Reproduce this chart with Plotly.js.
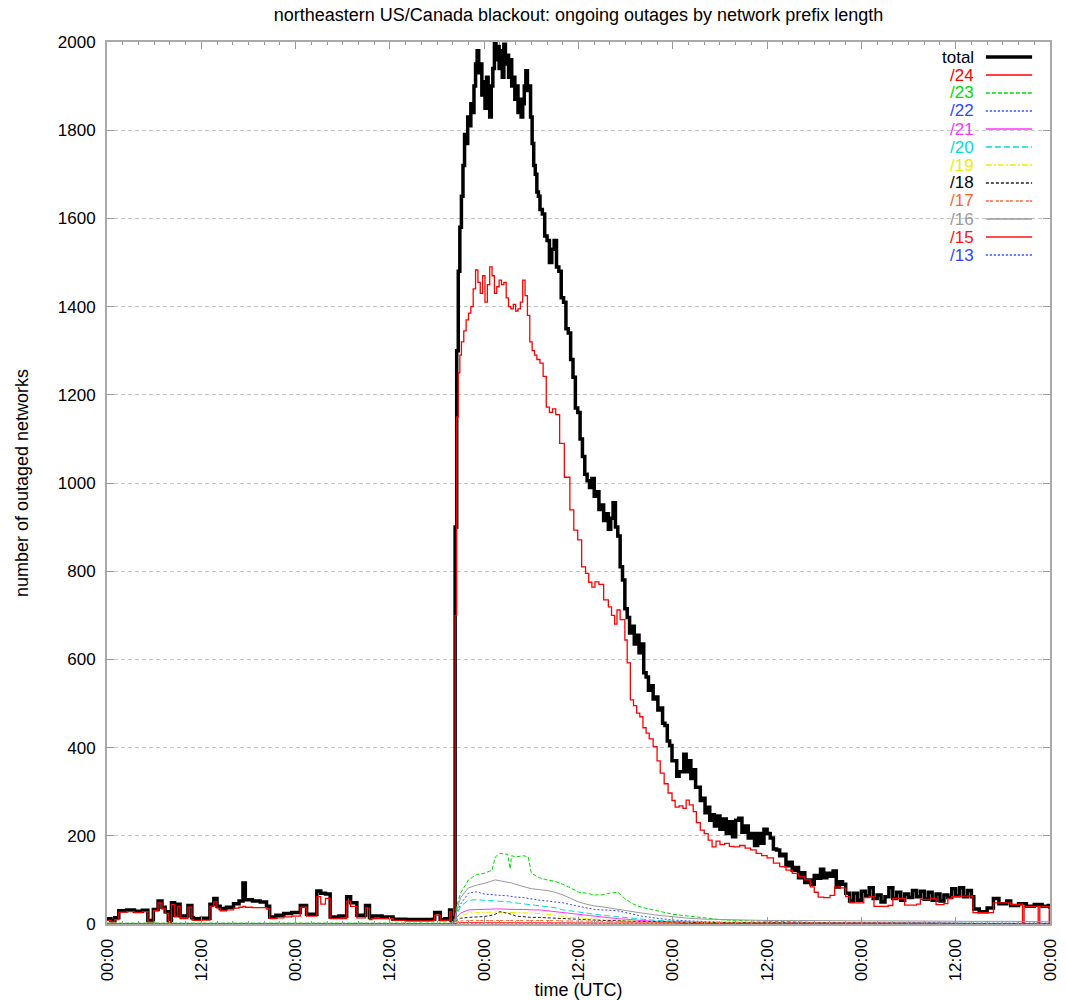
<!DOCTYPE html>
<html>
<head>
<meta charset="utf-8">
<script src="https://cdn.plot.ly/plotly-3.0.1.min.js"></script>
<style>html,body{margin:0;padding:0;background:#fff}#chart{width:1066px;height:1000px}</style>
</head>
<body>
<div id="chart"></div>
<script>
// ---- DATA (hours since 2003-08-13 00:00 UTC) ----
const totalHours = [
  0, 0.5, 1.0, 1.5, 2.5, 3.5, 4.5, 5.2, 5.9, 6.5,
  7.0, 7.4, 7.8, 8.2, 8.6, 9.0, 9.3, 10.3, 10.8, 11.0,
  12.0, 13.1, 13.6, 14.0, 14.4, 15.2, 16.1, 16.8, 17.3, 17.6,
  18.5, 19.5, 20.3, 20.7, 21.5, 22.5, 23.5, 24.6, 25.4, 26.7,
  27.2, 27.8, 28.4, 29.5, 30.5, 31.0, 31.8, 32.9, 33.4, 33.7,
  35.0, 36.4, 38, 40, 41.5, 41.7, 42.4, 43.0, 43.6, 43.8,
  44.1, 44.3, 44.5, 44.7, 44.9, 45.1, 45.3, 45.5, 45.7, 45.9,
  46.1, 46.3, 46.5, 46.7, 46.9, 47.1, 47.3, 47.5, 47.7, 47.9,
  48.1, 48.3, 48.5, 48.7, 48.9, 49.1, 49.3, 49.5, 49.7, 49.9,
  50.1, 50.3, 50.5, 50.7, 50.9, 51.1, 51.3, 51.5, 51.7, 51.9,
  52.1, 52.3, 52.5, 52.7, 52.9, 53.1, 53.3, 53.5, 53.7, 53.9,
  54.1, 54.3, 54.5, 54.7, 54.9, 55.1, 55.4, 55.7, 56.0, 56.3,
  56.6, 56.9, 57.2, 57.5, 57.8, 58.1, 58.4, 58.7, 59.0, 59.3,
  59.6, 59.9, 60.2, 60.5, 60.8, 61.1, 61.4, 61.7, 62.0, 62.3,
  62.6, 62.9, 63.2, 63.5, 63.8, 64.1, 64.4, 64.7, 65.0, 65.3,
  65.6, 65.9, 66.2, 66.5, 66.8, 67.1, 67.4, 67.7, 68.0, 68.3,
  68.6, 68.9, 69.2, 69.5, 69.8, 70.1, 70.4, 70.7, 71.0, 71.3,
  71.6, 71.9, 72.2, 72.5, 72.8, 73.1, 73.4, 73.7, 74.0, 74.3,
  74.6, 74.9, 75.2, 75.5, 75.8, 76.1, 76.4, 76.7, 77.0, 77.3,
  77.6, 78.0, 78.4, 78.8, 79.2, 79.6, 80.0, 80.4, 80.8, 81.2,
  81.6, 82.0, 82.4, 82.8, 83.2, 83.6, 84.0, 84.4, 84.8, 85.2,
  85.6, 86.0, 86.4, 86.8, 87.2, 87.6, 88.0, 88.4, 88.8, 89.2,
  89.6, 90.0, 90.4, 90.8, 91.2, 91.6, 92.0, 92.4, 92.8, 93.2,
  93.6, 94.0, 94.5, 95.0, 95.5, 96.0, 96.5, 97.0, 97.5, 98.0,
  98.5, 99.0, 99.5, 100.0, 100.5, 101.0, 101.5, 102.0, 102.5, 103.0,
  103.5, 104.0, 104.5, 105.0, 105.5, 106.0, 106.5, 107.0, 107.5, 108.0,
  108.5, 109.0, 109.5, 110.0, 110.3, 111.0, 112.0, 112.8, 113.5, 114.5,
  115.0, 116.0, 117.0, 118.0, 119.0, 119.8, 120.0
];
const totalValues = [
  12, 8, 14, 30, 32, 29, 31, 8, 33, 52,
  38, 28, 8, 48, 20, 45, 18, 42, 14, 12,
  13, 45, 58, 40, 35, 38, 46, 52, 93, 55,
  52, 50, 40, 16, 20, 24, 26, 42, 22, 75,
  70, 68, 16, 18, 62, 48, 20, 42, 15, 18,
  16, 11, 10, 10, 11, 26, 10, 12, 32, 8,
  14, 900, 1300, 1480, 1580, 1650, 1720, 1790, 1770, 1830,
  1810, 1860, 1840, 1900, 1950, 1980, 1930, 1950, 1880, 1910,
  1850, 1920, 1880, 1830, 1900, 1940, 2010, 1960, 1990, 1940,
  1980, 1920, 1995, 1950, 1970, 1920, 1960, 1900, 1920, 1870,
  1900, 1840, 1870, 1830, 1860, 1900, 1935, 1890, 1900, 1830,
  1770, 1720, 1700, 1660, 1650, 1620, 1610, 1560, 1550, 1500,
  1530, 1550, 1490, 1480, 1420, 1410, 1350, 1340, 1280, 1240,
  1170, 1160, 1100, 1060, 1020, 1005, 990, 1010, 970, 980,
  940, 950, 915, 930, 895, 920, 955, 900, 880, 810,
  780, 715, 695, 660, 675, 635, 655, 615, 635, 570,
  560, 530, 540, 510, 515, 485, 490, 455, 450, 415,
  405, 370, 370, 335, 345, 345, 385, 345, 370, 330,
  350, 310, 310, 280, 285, 252, 265, 235, 248, 222,
  245, 215, 238, 205, 232, 198, 235, 240, 208, 222,
  195, 205, 178, 205, 183, 215, 205, 195, 170, 168,
  155, 158, 132, 140, 122, 128, 105, 116, 94, 100,
  90, 110, 104, 124, 105, 115, 108, 120, 84, 96,
  90, 70, 52, 70, 54, 74, 64, 82, 58, 66,
  50, 62, 82, 58, 72, 54, 68, 60, 76, 62,
  74, 56, 72, 54, 68, 52, 66, 60, 80, 64,
  82, 62, 76, 62, 34, 28, 36, 58, 46, 52,
  42, 46, 40, 44, 40, 42, 34
];

const p24Hours = [
  0, 0.5, 1.0, 1.5, 2.5, 3.5, 4.5, 5.2, 5.9, 6.5,
  7.0, 7.4, 7.8, 8.2, 8.6, 9.0, 9.3, 10.3, 10.8, 11.0,
  12.0, 13.1, 13.6, 14.0, 14.4, 15.2, 16.1, 16.8, 17.3, 17.6,
  18.5, 19.5, 20.3, 20.7, 21.5, 22.5, 23.5, 24.6, 25.4, 26.7,
  27.2, 27.8, 28.4, 29.5, 30.5, 31.0, 31.8, 32.9, 33.4, 33.7,
  35.0, 36.4, 38, 40, 41.5, 41.7, 42.4, 43.0, 43.6, 43.8,
  44.1, 44.3, 44.5, 44.7, 44.9, 45.1, 45.4, 45.7, 46.0, 46.3,
  46.6, 46.9, 47.2, 47.5, 47.8, 48.1, 48.4, 48.7, 49.0, 49.3,
  49.6, 49.9, 50.2, 50.5, 50.8, 51.1, 51.4, 51.7, 52.0, 52.3,
  52.6, 52.9, 53.2, 53.5, 53.8, 54.1, 54.4, 54.7, 55.1, 55.5,
  55.9, 56.3, 56.7, 57.1, 57.6, 58.2, 58.9, 59.4, 59.9, 60.4,
  60.9, 61.3, 61.7, 62.1, 62.6, 63.2, 63.8, 64.2, 64.6, 64.9,
  65.3, 65.9, 66.2, 66.6, 67.0, 67.4, 67.8, 68.2, 68.6, 69.0,
  69.5, 70.0, 70.4, 70.9, 71.4, 71.9, 72.3, 72.8, 73.3, 73.7,
  74.1, 74.6, 75.0, 75.5, 76.0, 76.5, 77.0, 77.5, 78.0, 78.6,
  79.2, 79.8, 80.5, 81.2, 81.9, 82.6, 83.3, 84.0, 84.8, 85.6,
  86.4, 87.2, 88.0, 88.8, 89.5, 90.0, 90.5, 91.2, 92.0, 92.6,
  93.3, 94.0, 94.5, 95.5, 96.3, 97.0, 97.6, 98.5, 99.4, 100.0,
  100.8, 101.5, 103.0, 103.5, 104.8, 105.5, 106.5, 107.0, 107.5, 108.5,
  109.5, 110.2, 112.7, 112.8, 114.5, 115.0, 116.0, 116.5, 116.7, 118.0,
  118.5, 118.7, 119.7, 119.9, 120.0
];
const p24Values = [
  8, 5, 10, 27, 28, 26, 28, 5, 30, 48,
  34, 24, 4, 44, 16, 40, 12, 38, 10, 8,
  9, 40, 50, 36, 30, 32, 36, 38, 40, 38,
  37, 37, 34, 12, 14, 16, 18, 38, 18, 62,
  45, 58, 12, 12, 52, 40, 14, 36, 10, 12,
  12, 8, 7, 7, 8, 20, 8, 9, 28, 5,
  10, 700, 1150, 1250, 1290, 1320, 1345, 1370, 1385, 1400,
  1440, 1483, 1455, 1430, 1470, 1410, 1450, 1490, 1470, 1430,
  1445, 1460, 1450, 1455, 1420, 1400, 1395, 1405, 1390, 1395,
  1410, 1460, 1425, 1380, 1320, 1300, 1290, 1280, 1272, 1242,
  1172, 1160, 1168, 1155, 1090, 1013, 939, 893, 871, 810,
  795, 775, 764, 776, 770, 735, 719, 700, 680, 712,
  690, 644, 592, 508, 495, 478, 470, 445, 433, 420,
  402, 370, 342, 318, 297, 280, 265, 268, 262, 281,
  270, 255, 230, 213, 205, 190, 175, 188, 180, 183,
  176, 175, 178, 172, 168, 160, 155, 150, 138, 130,
  122, 115, 107, 100, 84, 72, 61, 60, 65, 84,
  82, 62, 48, 48, 60, 62, 40, 40, 42, 58,
  58, 43, 45, 56, 58, 44, 46, 58, 62, 63,
  63, 26, 26, 48, 48, 44, 45, 2, 40, 40,
  2, 40, 40, 2, 30
];

const smallHours = [
  0, 44.2, 44.5, 45, 46, 47, 48, 49, 49.4, 50,
  51, 51.3, 51.5, 52, 53, 53.6, 54, 55, 56, 57,
  58, 59, 60, 61, 62, 63, 64, 65, 66, 67,
  68, 70, 72, 74, 76, 78, 80, 84, 88, 92,
  96, 100, 105, 110, 115, 120
];
const p23Values = [
  2, 2, 40, 70, 100, 112, 115, 122, 152, 160,
  158, 125, 155, 152, 155, 152, 115, 105, 100, 97,
  90, 82, 72, 70, 66, 66, 70, 72, 56, 45,
  38, 30, 22, 18, 14, 10, 8, 6, 5, 3,
  2, 2, 2, 2, 2, 1
];
const p22Values = [
  1, 1, 25, 45, 70, 73, 68, 66, 66, 65,
  64, 63, 62, 61, 60, 58, 56, 54, 52, 50,
  48, 44, 40, 36, 33, 32, 31, 30, 26, 22,
  18, 13, 9, 7, 5, 4, 4, 3, 3, 2,
  2, 2, 2, 2, 2, 2
];
const p21Values = [
  0, 0, 15, 25, 32, 33, 33, 34, 34, 34,
  33, 33, 33, 33, 33, 32, 32, 32, 30, 28,
  26, 24, 22, 19, 17, 15, 14, 12, 11, 9,
  8, 6, 5, 4, 4, 3, 3, 3, 2, 2,
  2, 2, 2, 1, 1, 1
];
const p20Values = [
  0, 0, 20, 40, 54, 55, 54, 53, 53, 52,
  50, 50, 49, 48, 46, 45, 44, 42, 40, 37,
  32, 30, 27, 25, 22, 20, 19, 17, 15, 13,
  11, 8, 6, 5, 4, 4, 3, 3, 2, 2,
  2, 2, 2, 1, 1, 1
];
const p19Values = [
  0, 0, 10, 18, 25, 26, 26, 27, 27, 27,
  26, 26, 26, 26, 25, 25, 25, 24, 22, 20,
  17, 15, 14, 12, 11, 10, 9, 8, 7, 6,
  5, 4, 4, 4, 3, 3, 3, 2, 2, 2,
  2, 2, 1, 1, 1, 1
];
const p18Values = [
  0, 0, 8, 13, 15, 16, 17, 20, 22, 28,
  25, 24, 22, 18, 16, 15, 15, 15, 14, 13,
  12, 11, 10, 10, 9, 8, 8, 7, 7, 6,
  6, 5, 4, 4, 3, 3, 3, 3, 2, 2,
  2, 2, 2, 1, 1, 1
];
const p17Values = [
  0, 0, 4, 7, 8, 8, 9, 9, 9, 9,
  9, 9, 9, 9, 8, 8, 8, 8, 8, 8,
  7, 7, 7, 7, 6, 6, 6, 6, 5, 5,
  5, 4, 4, 4, 3, 3, 3, 2, 2, 2,
  2, 2, 1, 1, 1, 1
];
const p16Values = [
  1, 1, 30, 60, 82, 88, 92, 98, 100, 98,
  95, 94, 93, 90, 85, 82, 80, 78, 76, 72,
  66, 58, 50, 45, 41, 39, 36, 34, 31, 28,
  25, 20, 16, 13, 11, 10, 9, 8, 8, 7,
  7, 7, 6, 6, 6, 5
];
const p15Values = [
  0, 0, 2, 3, 3, 3, 3, 3, 3, 3,
  3, 3, 3, 3, 3, 3, 3, 3, 3, 3,
  3, 3, 3, 3, 2, 2, 2, 2, 2, 2,
  2, 2, 2, 1, 1, 1, 1, 1, 1, 1,
  1, 1, 1, 1, 1, 0
];
const p13Values = [
  0, 0, 1, 1, 1, 1, 1, 1, 1, 1,
  1, 1, 1, 1, 1, 1, 1, 1, 1, 1,
  1, 1, 1, 1, 1, 1, 1, 1, 1, 1,
  1, 1, 1, 1, 1, 0, 0, 0, 0, 0,
  0, 0, 0, 0, 0, 0
];

const seriesNames = ['total', '/24', '/23', '/22', '/21', '/20', '/19', '/18', '/17', '/16', '/15', '/13'];
const seriesColors = ['#000000', '#ff0000', '#00dd00', '#3344ff', '#ff33ff', '#00dddd', '#eeee00', '#222222', '#ff6633', '#999999', '#ff1111', '#3344ff'];
const seriesDash = ['solid', 'solid', '4px,2px', '2px,2px', 'solid', '6px,3px', '6px,2px,2px,2px', '3px,2px', '3px,1px,3px,3px', 'solid', 'solid', '2px,2px'];
const seriesWidth = [3.5, 1.3, 1, 1, 1, 1, 1, 1, 1, 1, 1, 1];

const titleText = 'northeastern US/Canada blackout: ongoing outages by network prefix length';
const xTitle = 'time (UTC)';
const yTitle = 'number of outaged networks';

// ---- BUILD ----
const base = Date.UTC(2003, 7, 13);
const toDate = h => new Date(base + h * 3600000).toISOString().replace('T', ' ').slice(0, 19);

const xs = [totalHours, p24Hours, smallHours, smallHours, smallHours, smallHours, smallHours, smallHours, smallHours, smallHours, smallHours, smallHours];
const ys = [totalValues, p24Values, p23Values, p22Values, p21Values, p20Values, p19Values, p18Values, p17Values, p16Values, p15Values, p13Values];

const traces = seriesNames.map((n, i) => ({
  type: 'scatter', mode: 'lines', name: n,
  x: xs[i].map(toDate), y: ys[i],
  line: {color: seriesColors[i], width: seriesWidth[i], dash: seriesDash[i], shape: i < 2 ? 'hv' : 'linear'},
  showlegend: false, hoverinfo: 'skip'
}));

const fam = 'Liberation Sans, Arial, Helvetica, sans-serif';

// custom gnuplot-style key: label on the left, sample on the right
const annotations = [];
const shapes = [];
seriesNames.forEach((n, i) => {
  const yp = (924 - (57 + i * 18)) / 882;
  annotations.push({
    xref: 'paper', yref: 'paper', x: 0.921, y: yp, xanchor: 'right', yanchor: 'middle',
    text: n, showarrow: false,
    font: {family: fam, size: 17, color: seriesColors[i] === '#222222' ? '#000000' : seriesColors[i]}
  });
  shapes.push({
    type: 'line', xref: 'paper', yref: 'paper', x0: 0.932, x1: 0.981, y0: yp, y1: yp,
    line: {color: seriesColors[i], width: i === 0 ? 3.5 : 1.3, dash: seriesDash[i]}
  });
});

const font = {family: fam, size: 17, color: '#000'};
const tfont = {family: fam, size: 18, color: '#000'};

const layout = {
  width: 1066, height: 1000,
  margin: {l: 107, r: 16, t: 42, b: 76, pad: 0},
  paper_bgcolor: '#fff', plot_bgcolor: '#fff',
  font: font,
  title: {text: titleText, font: tfont, xref: 'paper', x: 0.5, xanchor: 'center', yref: 'container', y: 0.985, yanchor: 'middle'},
  xaxis: {
    type: 'date',
    range: [toDate(0), toDate(120)],
    dtick: 43200000, tick0: toDate(0),
    tickformat: '%H:%M', tickangle: -90,
    ticks: 'inside', ticklen: 7, tickcolor: '#999', tickwidth: 1,
    minor: {dtick: 7200000, ticks: 'inside', ticklen: 3, tickcolor: '#999', showgrid: false},
    showgrid: false, zeroline: false,
    showline: true, linecolor: '#aaa', linewidth: 2, mirror: 'ticks',
    ticklabelstandoff: 6,
    title: {text: xTitle, font: tfont, standoff: 2},
    tickfont: font
  },
  yaxis: {
    range: [0, 2000], dtick: 200, tick0: 0,
    ticks: 'inside', ticklen: 7, tickcolor: '#999',
    showgrid: true, gridcolor: '#c4c4c4', griddash: '4px,3px', gridwidth: 1,
    zeroline: false,
    showline: true, linecolor: '#aaa', linewidth: 2, mirror: 'ticks',
    ticklabelstandoff: 6,
    title: {text: yTitle, font: tfont, standoff: 24},
    tickfont: font
  },
  annotations: annotations,
  shapes: shapes
};

Plotly.newPlot('chart', traces, layout, {displayModeBar: false, staticPlot: true});
</script>
</body>
</html>
